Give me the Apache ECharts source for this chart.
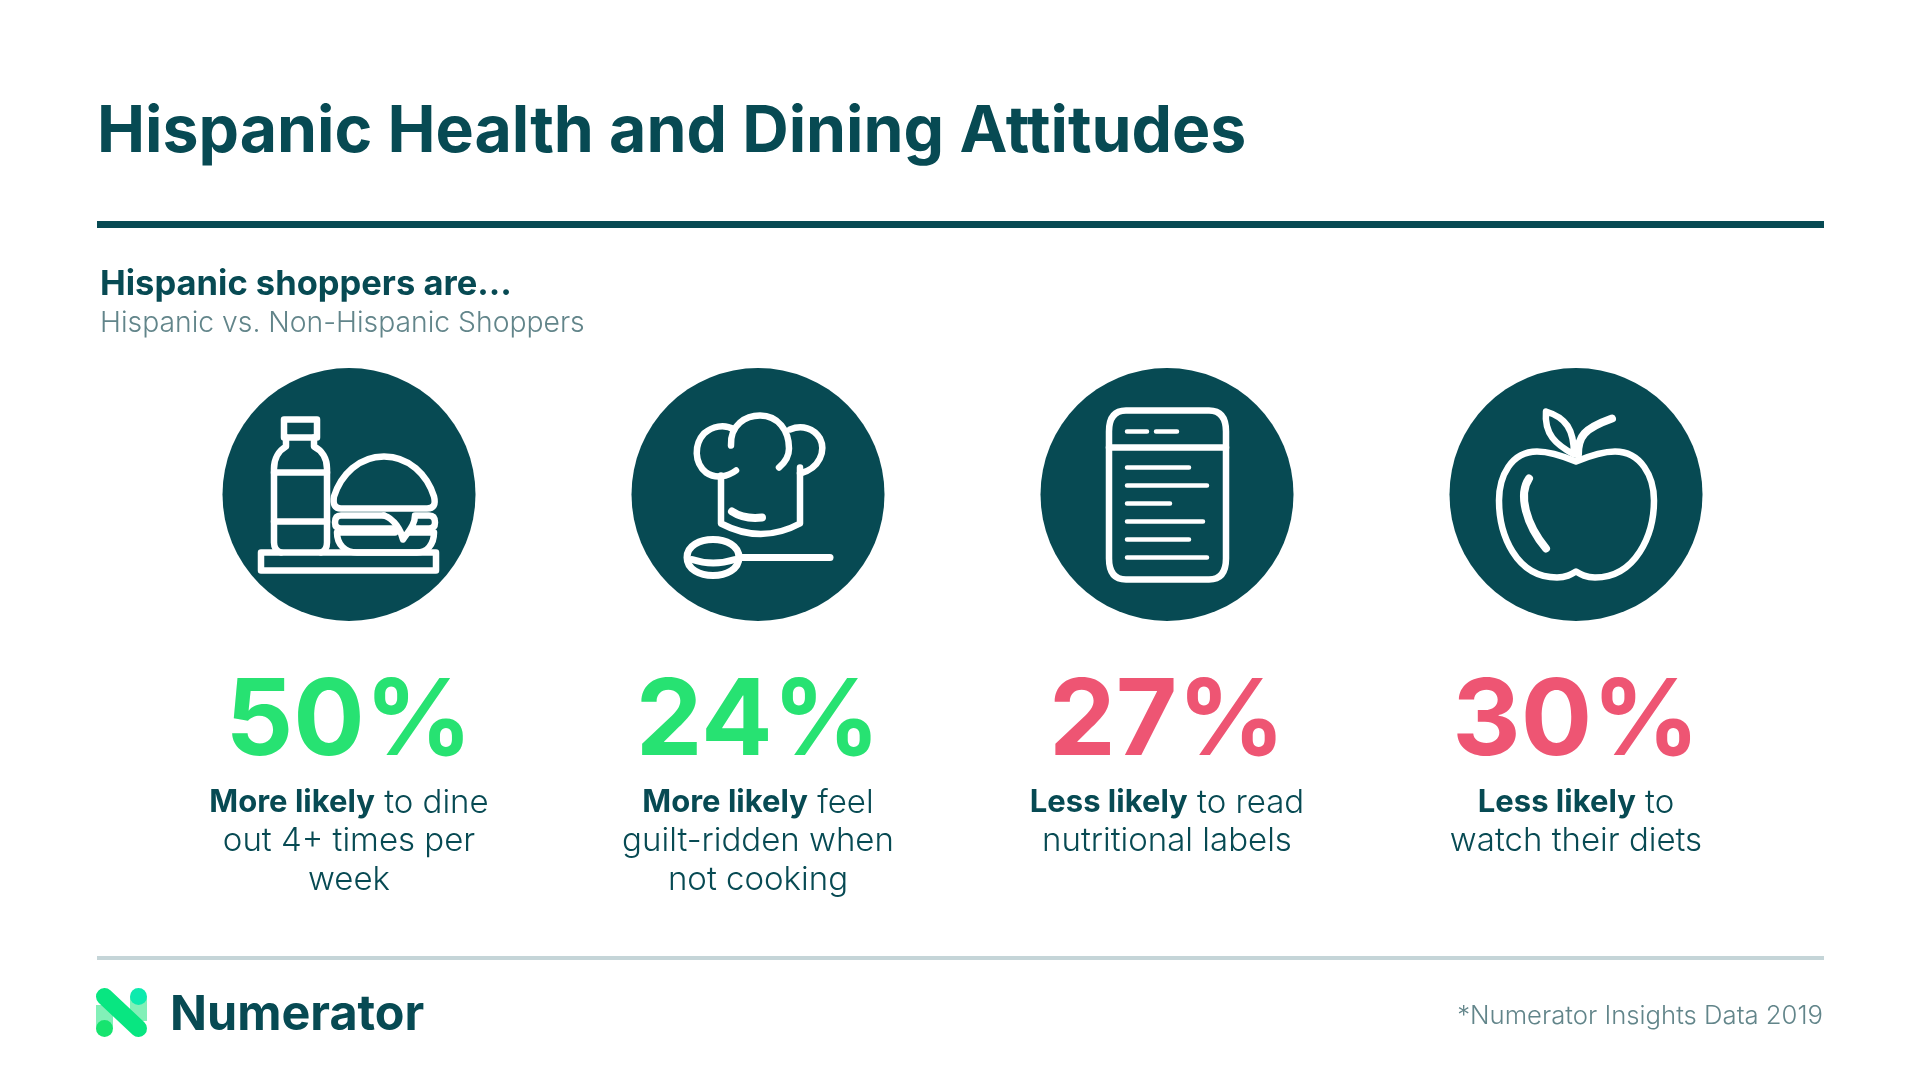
<!DOCTYPE html>
<html>
<head>
<meta charset="utf-8">
<title>Hispanic Health and Dining Attitudes</title>
<script src="https://cdn.jsdelivr.net/npm/echarts@6/dist/echarts.min.js"></script>
<style>
  html, body { margin: 0; padding: 0; background: #fff; }
  #chart { width: 1920px; height: 1080px; }
</style>
</head>
<body>
<div id="chart"></div>
<script>
var categories = ['Dine out', 'Guilt-ridden', 'Nutritional labels', 'Diets'];
var values = [50, 24, 27, 30];
var leads = ['More likely', 'More likely', 'Less likely', 'Less likely'];
var firstLines = [' to dine', ' feel', ' to read', ' to'];
var restLines = [
    ['out 4+ times per', 'week'],
    ['guilt-ridden when', 'not cooking'],
    ['nutritional labels'],
    ['watch their diets']
];

var DARK = '#074a53';
var GREY = '#62858a';
var GREEN = '#27e272';
var RED = '#ee5573';
var FONT = 'Inter';

// icon outlines, relative to the circle centre
var icons = [
    [
        { d: 'M-88,58 H87 V76 H-88 Z' },
        { d: 'M-65,-75 H-32 V-57 H-65 Z' },
        { d: 'M-63,-57 V-48 C-70,-44 -75,-36 -75,-26 V48 Q-75,56 -68,58' },
        { d: 'M-35,-57 V-48 C-27,-44 -22,-36 -22,-26 V48 Q-22,56 -28,58' },
        { d: 'M-75,-22 H-22 M-75,27 H-22' },
        { d: 'M-8,14 H78 Q88,14 85,2 C78,-20 60,-38 35,-38 C10,-38 -8,-20 -15,2 Q-17,14 -8,14 Z' },
        { d: 'M35,21 H-8 Q-14,21 -14,28 Q-14,34 -8,34 H46' },
        { d: 'M35,21 C45,24 52,36 54,45 C60,36 66,30 66,21 H80 Q86,21 86,28 Q86,34 80,34 H62' },
        { d: 'M46,38 H-12 C-12,50 -4,58 8,58 H68 C78,58 85,50 85,38 H60' }
    ],
    [
        { d: 'M-27,-49 C-28,-70 -12,-79 2,-79 C20,-79 31,-64 31,-46 C31,-38 27,-32 21,-27' },
        { d: 'M-24,-65 C-34,-71 -46,-68 -54,-61 C-64,-50 -64,-32 -52,-22 C-42,-15 -30,-18 -22,-24' },
        { d: 'M-37,-19 V29 Q3,50 42,29 V-27' },
        { d: 'M32,-65 C44,-70 56,-66 62,-56 C68,-44 62,-26 42,-21' },
        { d: 'M-26,17 Q-14,25 4,23', w: 8 },
        { d: 'M-19,63 C-19,51 -32,45 -45,45 C-58,45 -71,51 -71,63 C-71,75 -58,81 -45,81 C-32,81 -19,75 -19,63 Z', w: 7 },
        { d: 'M-17,63 H72', w: 7 },
        { d: 'M-66,65 Q-45,72 -23,65', w: 7 }
    ],
    [
        { d: 'M-41,-84 H42 Q59,-84 59,-63 V64 Q59,85 42,85 H-41 Q-58,85 -58,64 V-63 Q-58,-84 -41,-84 Z' },
        { d: 'M-58,-47 H59' },
        { d: 'M-40,-63 H-20 M-11,-63 H10', w: 4.5 },
        { d: 'M-40,-27 H22 M-40,-9 H40 M-40,9 H3 M-40,27 H36 M-40,45 H22 M-40,63 H40', w: 4.5 }
    ],
    [
        { d: 'M0,-33 C-12,-38 -25,-43 -39,-43 C-65,-43 -77,-18 -77,6 C-77,40 -60,83 -19,83 C-10,83 -5,80 0,77 C5,80 10,83 19,83 C60,83 78,40 78,6 C78,-18 65,-43 39,-43 C25,-43 12,-38 0,-33 Z' },
        { d: 'M-47,-16 C-58,0 -50,30 -30,54', w: 8 },
        { d: 'M2,-40 C2,-58 8,-66 36,-76', w: 8 },
        { d: 'M-2,-40 C-20,-50 -32,-60 -30,-83 C-10,-77 -2,-65 -2,-40 Z' }
    ]
];

function buildDescription(i) {
    var out = '{b|' + leads[i] + '}{r|' + firstLines[i] + '}';
    restLines[i].forEach(function (line) {
        out += '\n{r|' + line + '}';
    });
    return out;
}

function renderColumn(params, api) {
    var i = api.value(0);
    var c = api.coord([i, 0]);
    var color = leads[i] === 'More likely' ? GREEN : RED;
    var kids = [{
        type: 'circle',
        shape: { cx: 0, cy: 0, r: 126.5 },
        style: { fill: DARK }
    }];
    icons[i].forEach(function (p) {
        kids.push({
            type: 'path',
            shape: { pathData: p.d },
            style: { fill: 'none', stroke: '#fff', lineWidth: p.w || 6.5, lineCap: 'round', lineJoin: 'round' }
        });
    });
    kids.push({
        type: 'text',
        x: 0,
        y: 229,
        style: {
            text: api.value(1) + '%',
            fill: color,
            font: '700 106px ' + FONT,
            align: 'center',
            verticalAlign: 'middle'
        }
    });
    kids.push({
        type: 'text',
        x: 0,
        y: 289,
        style: {
            text: buildDescription(i),
            align: 'center',
            verticalAlign: 'top',
            rich: {
                b: { font: '700 31px ' + FONT, fill: DARK, lineHeight: 38.5 },
                r: { font: '300 33px ' + FONT, fill: DARK, lineHeight: 38.5 }
            }
        }
    });
    return { type: 'group', x: c[0], y: c[1], children: kids };
}

var chart = echarts.init(document.getElementById('chart'));
chart.setOption({
    backgroundColor: '#fff',
    animation: false,
    title: [
        { text: 'Hispanic Health and Dining Attitudes', left: 97, top: 101, padding: 0,
          textStyle: { color: DARK, fontFamily: FONT, fontWeight: 700, fontSize: 64.3 } },
        { text: 'Hispanic shoppers are…', left: 100, top: 267, padding: 0,
          textStyle: { color: DARK, fontFamily: FONT, fontWeight: 700, fontSize: 34.5 } },
        { text: 'Hispanic vs. Non-Hispanic Shoppers', left: 100, top: 309, padding: 0,
          textStyle: { color: GREY, fontFamily: FONT, fontWeight: 300, fontSize: 28.3 } },
        { text: '*Numerator Insights Data 2019', right: 97, top: 1003, padding: 0,
          textStyle: { color: GREY, fontFamily: FONT, fontWeight: 300, fontSize: 25.7 } },
        { text: 'Numerator', left: 170, top: 991, padding: 0,
          textStyle: { color: DARK, fontFamily: FONT, fontWeight: 700, fontSize: 48.5 } }
    ],
    grid: { left: 144.5, top: 368, width: 1636, height: 253 },
    xAxis: { type: 'category', data: categories, show: false },
    yAxis: { type: 'value', min: -1, max: 1, show: false },
    series: [{
        type: 'custom',
        renderItem: renderColumn,
        data: values.map(function (v, i) { return [i, v]; }),
        encode: { x: 0 },
        silent: true
    }],
    graphic: [
        { type: 'rect', shape: { x: 97, y: 221, width: 1727, height: 7 }, style: { fill: DARK } },
        { type: 'rect', shape: { x: 97, y: 956, width: 1727, height: 4 }, style: { fill: '#c5d5d8' } },
        // logo
        { type: 'rect', shape: { x: 96, y: 1005, width: 17, height: 24 }, style: { fill: '#82f0b8' } },
        { type: 'rect', shape: { x: 130, y: 997, width: 17, height: 24 }, style: { fill: '#82f0b8' } },
        { type: 'circle', shape: { cx: 138.5, cy: 996.5, r: 8.5 }, style: { fill: '#0deaae' } },
        { type: 'circle', shape: { cx: 104.5, cy: 1028.5, r: 8.5 }, style: { fill: '#17e46f' } },
        { type: 'line', shape: { x1: 104.5, y1: 996.5, x2: 138.5, y2: 1028.5 },
          style: { stroke: '#08e681', lineWidth: 17, lineCap: 'round' } }
    ]
});
</script>
</body>
</html>
